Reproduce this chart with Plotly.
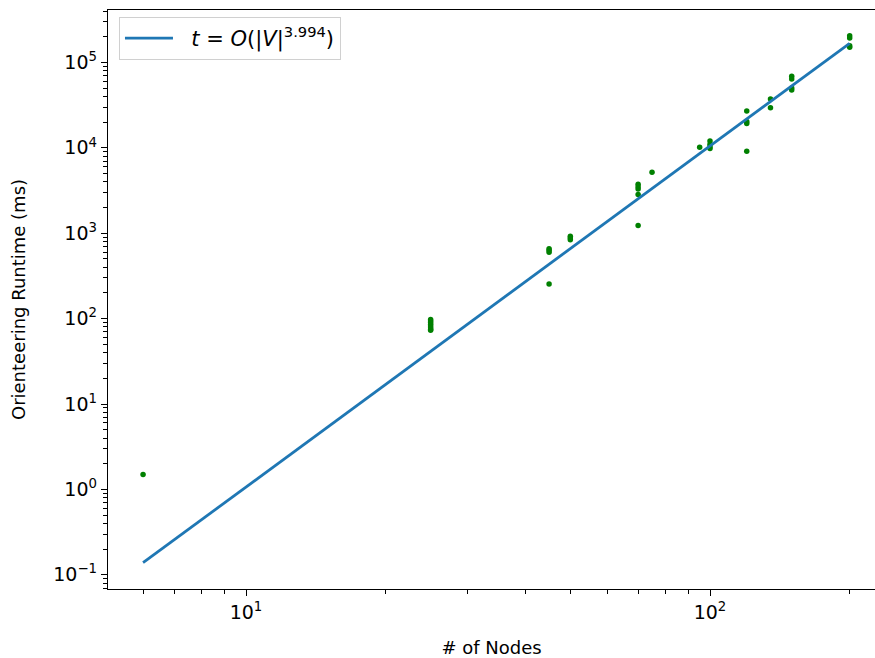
import numpy as np
import plotly.graph_objects as go

# Measured runtimes (ms) grouped by graph size (# of nodes)
node_counts = [6, 25, 45, 50, 70, 75, 95, 100, 120, 135, 150, 200]
runtimes_ms = [
    [1.5],
    [98, 94, 90, 86, 82, 78, 75, 73],
    [660, 630, 600, 255],
    [920, 880, 840],
    [3750, 3500, 3300, 2850, 1230],
    [5190],
    [10170],
    [12000, 11000, 10300, 9800],
    [27000, 20300, 19300, 9100],
    [37400, 29400],
    [68800, 64100, 50300, 47600],
    [205700, 193600, 157000, 150300],
]

# Power-law fit t = c * |V|^k
fit_exponent = 3.994
fit_log10_coeff = -3.966
fit_range = [6, 200]

xs = [n for n, ts in zip(node_counts, runtimes_ms) for _ in ts]
ys = [t for ts in runtimes_ms for t in ts]
fit_x = np.array(fit_range, dtype=float)
fit_y = 10 ** fit_log10_coeff * fit_x ** fit_exponent

FONT = "DejaVu Sans"

fig = go.Figure()
fig.add_trace(go.Scatter(
    x=xs, y=ys, mode="markers",
    marker=dict(color="#008000", size=5.5, line=dict(width=0)),
    showlegend=False,
))
fig.add_trace(go.Scatter(
    x=fit_x, y=fit_y, mode="lines",
    line=dict(color="#1f77b4", width=2.8),
    name="  <i>t</i> = <i>O</i>(|<i>V</i>|<sup>3.994</sup>)",
))

def minor_vals(lo, hi):
    return [m * 10 ** k for k in range(lo, hi) for m in range(2, 10)]

fig.update_layout(
    width=875, height=658,
    margin=dict(l=108, r=0, t=10, b=69),
    paper_bgcolor="white", plot_bgcolor="white",
    font=dict(family=FONT, size=18, color="black"),
    legend=dict(
        x=0.0143, y=0.988, xanchor="left", yanchor="top",
        bgcolor="white", bordercolor="#d0d0d0", borderwidth=1,
        font=dict(family=FONT, size=21), itemwidth=48,
    ),
    xaxis=dict(
        type="log", range=[0.7026, 2.3556],
        showgrid=False, zeroline=False,
        showline=True, linecolor="black", linewidth=1.4, mirror=True,
        ticks="outside", ticklen=6, tickwidth=1.3, tickcolor="black",
        tickvals=[10, 100], ticktext=["10<sup>1</sup>", "10<sup>2</sup>"],
        tickfont=dict(family=FONT, size=19),
        minor=dict(ticks="outside", ticklen=3.5, tickwidth=1.1, tickcolor="black",
                   tickvals=minor_vals(0, 3), showgrid=False),
        title=dict(text="# of Nodes", font=dict(family=FONT, size=18), standoff=19),
    ),
    yaxis=dict(
        type="log", range=[-1.166, 5.614],
        showgrid=False, zeroline=False,
        showline=True, linecolor="black", linewidth=1.4, mirror=False,
        ticks="outside", ticklen=6, tickwidth=1.3, tickcolor="black",
        tickvals=[10 ** k for k in range(-1, 6)],
        ticktext=[f"10<sup>{k}</sup>" if k >= 0 else "10<sup>\u22121</sup>" for k in range(-1, 6)],
        tickfont=dict(family=FONT, size=19),
        minor=dict(ticks="outside", ticklen=3.5, tickwidth=1.1, tickcolor="black",
                   tickvals=minor_vals(-2, 6), showgrid=False),
        title=dict(text="Orienteering Runtime (ms)", font=dict(family=FONT, size=18), standoff=22),
    ),
)

fig.write_html("out.html")
